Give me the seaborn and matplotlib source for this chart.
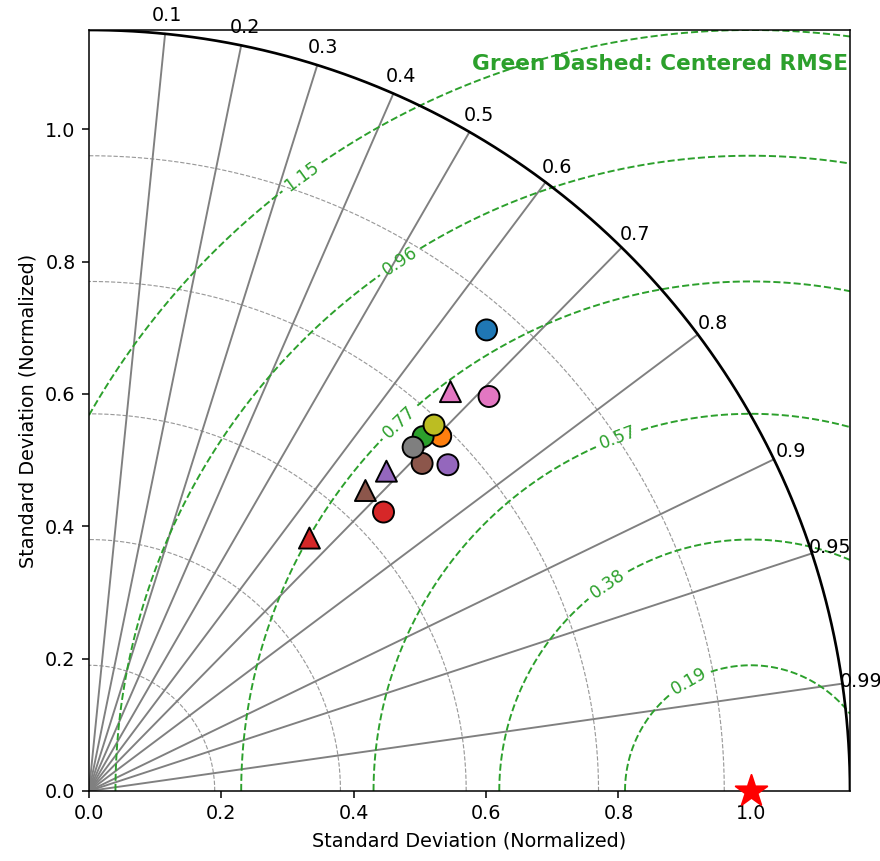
import numpy as np
import pandas as pd
import matplotlib
matplotlib.use("Agg")
import matplotlib.pyplot as plt
import seaborn as sns

# Normalized standard deviation and correlation of each model with the reference
circle_models = ["M1", "M2", "M3", "M4", "M5", "M6", "M7", "M8", "M9"]
circle_std = [0.920, 0.755, 0.736, 0.613, 0.733, 0.706, 0.849, 0.714, 0.760]
circle_corr = [0.653, 0.704, 0.686, 0.726, 0.740, 0.713, 0.712, 0.686, 0.686]

triangle_models = ["E1", "E2", "E3", "E4"]
triangle_std = [0.507, 0.660, 0.617, 0.814]
triangle_corr = [0.657, 0.681, 0.677, 0.671]

ref_std = 1.0
max_std = 1.15
corr_ticks = [0.1, 0.2, 0.3, 0.4, 0.5, 0.6, 0.7, 0.8, 0.9, 0.95, 0.99]
rmse_levels = [0.19, 0.38, 0.57, 0.77, 0.96, 1.15]

tab = sns.color_palette("tab10")
circle_colors = [tab[i] for i in range(9)]
triangle_colors = [tab[3], tab[4], tab[5], tab[6]]
green = tab[2]

df = pd.DataFrame({
    "model": circle_models + triangle_models,
    "std": circle_std + triangle_std,
    "corr": circle_corr + triangle_corr,
    "kind": ["circle"] * len(circle_models) + ["triangle"] * len(triangle_models),
})
theta = np.arccos(df["corr"])
df["x"] = df["std"] * np.cos(theta)
df["y"] = df["std"] * np.sin(theta)
palette = dict(zip(circle_models + triangle_models, circle_colors + triangle_colors))

fig = plt.figure(figsize=(880 / 138, 861 / 138), dpi=138)
ax = fig.add_axes([89 / 880, 70 / 861, 761 / 880, 761 / 861])
ax.set_xlim(0, max_std)
ax.set_ylim(0, max_std)
ax.set_aspect("equal")

# standard deviation arcs
t = np.linspace(0, np.pi / 2, 300)
for r in rmse_levels[:-1]:
    ax.plot(r * np.cos(t), r * np.sin(t), ls="--", color="gray", lw=0.6, alpha=0.8, zorder=1)
ax.plot(max_std * np.cos(t), max_std * np.sin(t), color="black", lw=1.4, zorder=2)

# correlation rays and their labels
for c in corr_ticks:
    a = np.arccos(c)
    ax.plot([0, max_std * np.cos(a)], [0, max_std * np.sin(a)], color="gray", lw=1, zorder=1)
    ax.text(1.178 * np.cos(a), 1.178 * np.sin(a), f"{c:g}", ha="center", va="center",
            fontsize=10, clip_on=False)

# centered RMSE contours around the reference point
g = np.linspace(0, max_std, 500)
X, Y = np.meshgrid(g, g)
R = np.hypot(X - ref_std, Y)
cs = ax.contour(X, Y, R, levels=rmse_levels, colors=[green], linestyles="--",
                linewidths=1, zorder=1)
label_spots = [(0.906, 0.166), (0.784, 0.312), (0.799, 0.536),
               (0.468, 0.559), (0.470, 0.800), (0.319, 0.932)]
ax.clabel(cs, fmt="%.2f", fontsize=9, inline=True, manual=label_spots)

sns.scatterplot(data=df, x="x", y="y", hue="model", style="kind",
                markers={"circle": "o", "triangle": "^"}, palette=palette,
                s=120, edgecolor="black", linewidth=1, legend=False, zorder=5, ax=ax)

ax.scatter([ref_std], [0], marker="*", s=300, color="red", zorder=6, clip_on=False)

ax.text(0.997, 0.968, "Green Dashed: Centered RMSE", transform=ax.transAxes,
        ha="right", va="top", color=green, fontsize=11.3, fontweight="bold")

ax.set_xticks(np.arange(0, 1.01, 0.2))
ax.set_yticks(np.arange(0, 1.01, 0.2))
ax.set_xlabel("Standard Deviation (Normalized)")
ax.set_ylabel("Standard Deviation (Normalized)")

fig.savefig("out.png", dpi=138)
